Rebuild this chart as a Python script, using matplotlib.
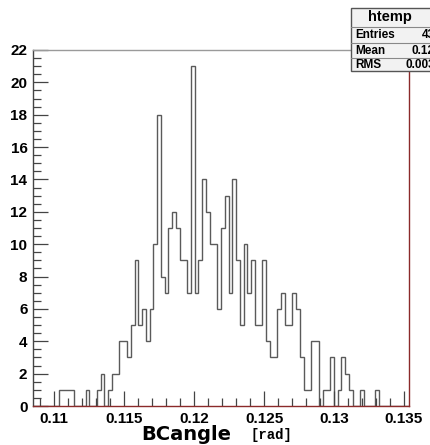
import numpy as np
import matplotlib
matplotlib.use("Agg")
import matplotlib.pyplot as plt
from matplotlib.ticker import MultipleLocator, FormatStrFormatter
from matplotlib.patches import Rectangle

# ROOT htemp: 100 bins between these limits
x_lo = 0.10848
x_hi = 0.13536
n_bins = 100
counts = [0, 0, 0, 0, 0, 0, 0, 1, 1, 1,
          1, 0, 0, 0, 1, 0, 0, 1, 2, 0,
          1, 2, 2, 4, 4, 3, 5, 9, 5, 6,
          4, 6, 10, 18, 8, 7, 11, 12, 11, 9,
          9, 7, 21, 7, 9, 14, 12, 10, 10, 6,
          11, 13, 7, 14, 9, 5, 10, 7, 9, 5,
          5, 9, 4, 3, 3, 6, 7, 5, 5, 7,
          6, 3, 1, 1, 4, 4, 0, 1, 1, 3,
          0, 1, 3, 2, 1, 0, 0, 1, 0, 0,
          0, 1, 0, 0, 0, 0, 0, 0, 0, 0]

x_ticks = [0.11, 0.115, 0.12, 0.125, 0.13, 0.135]
y_ticks = list(range(0, 23, 2))

stat_labels = ["Entries", "Mean", "RMS"]
stat_values = ["431", "0.1215", "0.003939"]

plt.rcParams['font.family'] = ['Liberation Sans', 'DejaVu Sans']

W, H = 430, 445
fig = plt.figure(figsize=(4.3, 4.45), dpi=100)
ax = fig.add_axes([33 / W, 1 - 406 / H, (409 - 33) / W, (406 - 50) / H])

edges = np.linspace(x_lo, x_hi, n_bins + 1)
ax.stairs(counts, edges, color='#5a5a5a', lw=1.0)

ax.set_xlim(x_lo, x_hi)
ax.set_ylim(0, 22.0)
ax.set_xticks(x_ticks)
ax.set_yticks(y_ticks)
ax.xaxis.set_minor_locator(MultipleLocator(0.001))
ax.yaxis.set_minor_locator(MultipleLocator(0.5))
ax.xaxis.set_major_formatter(FormatStrFormatter('%g'))
ax.tick_params(which='major', direction='in', length=11, width=0.9, color='#444444',
               labelsize=11, pad=4)
ax.tick_params(which='minor', direction='in', length=5.5, width=0.9, color='#444444')
for lab in ax.get_xticklabels() + ax.get_yticklabels():
    lab.set_fontweight('bold')

ax.spines['left'].set_color('#444444')
ax.spines['top'].set_color('#9a9a9a')
ax.spines['right'].set_color('#8b2a2a')
ax.spines['bottom'].set_color('#8b2a2a')
for s in ax.spines.values():
    s.set_linewidth(1.0)

# axis title
fig.text(141 / W, 1 - 440 / H, "BCangle", fontsize=14, fontweight='bold', ha='left', va='baseline',
         family=['DejaVu Sans'])
fig.text(250 / W, 1 - 439 / H, "[rad]", fontsize=10, fontweight='bold', ha='left', va='baseline',
         family=['Liberation Mono', 'DejaVu Sans Mono'])

# stats box (cut off at the right edge, like the reference)
bx0 = 351 / W
rows = [8, 27, 43, 58, 71]
fig.patches.append(Rectangle((bx0, 1 - rows[-1] / H), 0.2, (rows[-1] - rows[0]) / H,
                             transform=fig.transFigure, facecolor='#f2f2f2',
                             edgecolor='#555555', lw=1.0, zorder=5))
for r in rows[1:-1]:
    fig.add_artist(plt.Line2D([bx0, 1.2], [1 - r / H, 1 - r / H], transform=fig.transFigure,
                              color='#888888', lw=0.8, zorder=6))
fig.text(390 / W, 1 - 17.5 / H, "htemp", fontsize=10.5, fontweight='bold', ha='center',
         va='center', zorder=7)
val_x = [422, 411, 406]
for i, (lab, val) in enumerate(zip(stat_labels, stat_values)):
    yc = 1 - (rows[i + 1] + rows[i + 2]) / 2 / H
    fig.text(355 / W, yc, lab, fontsize=8.5, fontweight='bold', ha='left', va='center', zorder=7)
    fig.text(val_x[i] / W, yc, val, fontsize=8.5, fontweight='bold', ha='left', va='center', zorder=7)

fig.savefig("out.png", dpi=100)
